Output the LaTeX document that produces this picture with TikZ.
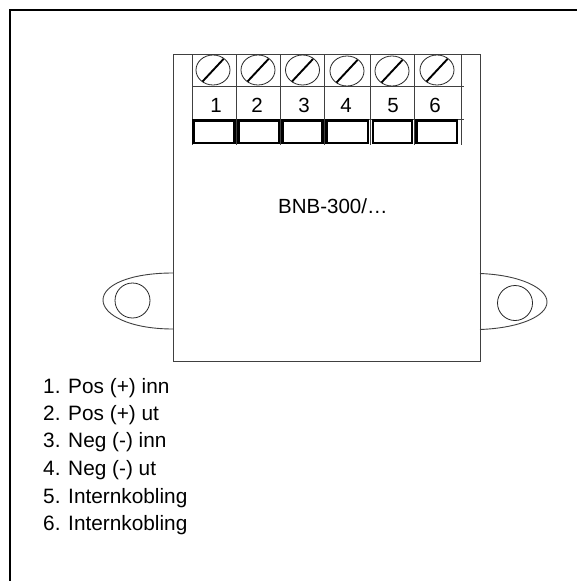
\documentclass[tikz,border=0pt]{standalone}
\usepackage{fontspec}
\setmainfont{Liberation Sans}
\usetikzlibrary{shapes.geometric}
\begin{document}
\begin{tikzpicture}[x=1pt,y=-1pt,
 thinline/.style={line width=0.9pt,draw=black!75},
 frame/.style={line width=1.6pt,draw=black},
 screw/.style={draw=black!85,line width=0.8pt,ellipse,inner sep=0pt,minimum width=34pt,minimum height=30pt},
 hole/.style={draw=black!85,line width=0.8pt,circle,minimum size=35pt,inner sep=0pt},
 term/.style={draw=black,line width=2.7pt,fill=white},
 lab/.style={font=\fontsize{20.5pt}{24pt}\selectfont,inner sep=0pt,anchor=base},
 item/.style={font=\fontsize{20.8pt}{24pt}\selectfont,inner sep=0pt,anchor=base west}]
\useasboundingbox (0,0) rectangle (577,581);
\fill[white] (0,0) rectangle (577,581);
\draw[frame] (10,581) -- (10,10) -- (577,10);
% lugs
\draw[thinline] (173,273) .. controls (130,273) and (103,285) .. (103,300) .. controls (103,315) and (130,329) .. (173,329);
\draw[thinline] (480,273.5) .. controls (520,275) and (547,288) .. (547,302) .. controls (547,316) and (520,328) .. (480,329.5);
\node[hole] (holeL) at (132.5,300.5) {};
\node[hole] (holeR) at (515,303) {};
% body
\draw[thinline] (173,54.5) rectangle (480,361.5);
% terminal grid
\foreach \x in {192,236,280,324,370,414,461} \draw[thinline] (\x,54.5) -- (\x,145);
\draw[thinline] (192,86.5) -- (464,86.5);
\draw[thinline] (192,119.5) -- (464,119.5);
% terminals
\foreach \a/\b in {193.5/234.5,238.5/279,282.5/322.5,326.5/368,373/412,416.5/457}
  \draw[term] (\a,120.5) rectangle (\b,143);
% screws
\foreach \n/\x/\y in {1/213/70,2/258/70,3/302.5/70,4/347/71,5/392/71,6/437/70}{
  \node[screw] (s\n) at (\x,\y) {};
  \draw[line width=1.9pt] (\x-10.5,\y+11.5) -- (\x+10.5,\y-11);
}
% numbers
\foreach \n/\x in {1/216,2/257,3/304,4/346,5/393,6/435}
  \node[lab] at (\x,112) {\n};
\node[lab,anchor=base west] at (278,213) {BNB-300/…};
\node[item] at (43,393) {1. Pos (+) inn};
\node[item] at (43,420) {2. Pos (+) ut};
\node[item] at (43,447) {3. Neg (-) inn};
\node[item] at (43,475) {4. Neg (-) ut};
\node[item] at (43,503) {5. Internkobling};
\node[item] at (43,530) {6. Internkobling};
\end{tikzpicture}
\end{document}
